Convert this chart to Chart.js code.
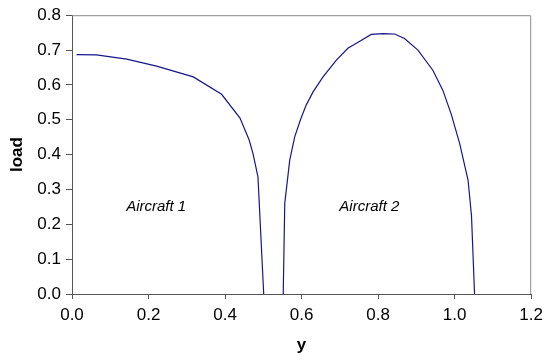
<!DOCTYPE html>
<html>
<head>
<meta charset="utf-8">
<script src="https://cdn.jsdelivr.net/npm/chart.js@4/dist/chart.umd.min.js"></script>
<style>
  html, body { margin: 0; padding: 0; background: #fff; }
  #wrap { width: 549px; height: 360px; }
</style>
</head>
<body>
<div id="wrap"><canvas id="c" width="549" height="360"></canvas></div>
<script>
// Aircraft 1 spanwise load
const aircraft1Y    = [0.012, 0.064, 0.143, 0.221, 0.317, 0.391, 0.439, 0.463, 0.473, 0.486, 0.501];
const aircraft1Load = [0.687, 0.686, 0.674, 0.654, 0.623, 0.573, 0.505, 0.442, 0.403, 0.336, 0.000];
// Aircraft 2 spanwise load
const aircraft2Y    = [0.552, 0.556, 0.569, 0.582, 0.597, 0.612, 0.630, 0.656, 0.691, 0.721, 0.752, 0.782, 0.813, 0.843, 0.869, 0.904, 0.943, 0.969, 0.991, 1.013, 1.035, 1.044, 1.052];
const aircraft2Load = [0.000, 0.260, 0.384, 0.451, 0.500, 0.542, 0.580, 0.623, 0.671, 0.705, 0.725, 0.745, 0.747, 0.746, 0.733, 0.700, 0.642, 0.585, 0.516, 0.432, 0.327, 0.225, 0.000];
// Annotation labels
const labelTexts = ["Aircraft 1", "Aircraft 2"];
const labelX     = [0.22, 0.777];
const labelYv    = [0.249, 0.249];
// Axis ticks
const xTicks = [0.0, 0.2, 0.4, 0.6, 0.8, 1.0, 1.2];
const yTicks = [0.0, 0.1, 0.2, 0.3, 0.4, 0.5, 0.6, 0.7, 0.8];

const toPts = (xs, ys) => xs.map((x, i) => ({ x: x, y: ys[i] }));

const frame = {
  id: 'frame',
  beforeDatasetsDraw(chart) {
    const { ctx, chartArea: a } = chart;
    ctx.save();
    ctx.strokeStyle = '#8c8c8c';
    ctx.lineWidth = 1;
    ctx.beginPath();
    ctx.moveTo(a.left, a.top + 0.5);
    ctx.lineTo(a.right - 0.5, a.top + 0.5);
    ctx.lineTo(a.right - 0.5, a.bottom);
    ctx.stroke();
    ctx.restore();
  },
  afterDatasetsDraw(chart) {
    const { ctx } = chart;
    const xs = chart.scales.x, ys = chart.scales.y;
    ctx.save();
    ctx.font = 'italic 15px "Liberation Sans", Arial, sans-serif';
    ctx.fillStyle = '#000';
    ctx.textAlign = 'center';
    ctx.textBaseline = 'middle';
    labelTexts.forEach((t, i) => {
      ctx.fillText(t, xs.getPixelForValue(labelX[i]), ys.getPixelForValue(labelYv[i]));
    });
    ctx.restore();
  }
};

const font = { family: '"Liberation Sans", Arial, sans-serif', size: 17 };

new Chart(document.getElementById('c'), {
  type: 'scatter',
  data: {
    datasets: [
      { label: 'Aircraft 1', data: toPts(aircraft1Y, aircraft1Load), showLine: true,
        borderColor: '#16168c', borderWidth: 1.2, pointRadius: 0, tension: 0, fill: false },
      { label: 'Aircraft 2', data: toPts(aircraft2Y, aircraft2Load), showLine: true,
        borderColor: '#16168c', borderWidth: 1.2, pointRadius: 0, tension: 0, fill: false }
    ]
  },
  options: {
    responsive: false,
    animation: false,
    events: [],
    layout: { padding: { top: 15, right: 17, left: 0, bottom: 0 } },
    plugins: { legend: { display: false }, tooltip: { enabled: false } },
    scales: {
      x: {
        type: 'linear', min: 0, max: 1.2,
        afterBuildTicks: s => { s.ticks = xTicks.map(v => ({ value: v })); },
        afterFit: s => { s.height = 66; },
        border: { color: '#555', width: 1 },
        grid: { drawOnChartArea: false, drawTicks: true, tickLength: 5, color: '#555' },
        ticks: { color: '#000', font: font, padding: 6, maxRotation: 0,
                 callback: v => Number(v).toFixed(1) },
        title: { display: true, text: 'y', color: '#000',
                 font: { family: font.family, size: 17, weight: 'bold' },
                 padding: { top: 0, bottom: 4 } }
      },
      y: {
        type: 'linear', min: 0, max: 0.8,
        afterBuildTicks: s => { s.ticks = yTicks.map(v => ({ value: v })); },
        afterFit: s => { s.width = 72; },
        border: { color: '#555', width: 1 },
        grid: { drawOnChartArea: false, drawTicks: true, tickLength: 6, color: '#555' },
        ticks: { color: '#000', font: font, padding: 5,
                 callback: v => Number(v).toFixed(1) },
        title: { display: true, text: 'load', color: '#000',
                 font: { family: font.family, size: 17, weight: 'bold' },
                 padding: { top: 7, bottom: 0 } }
      }
    }
  },
  plugins: [frame]
});
</script>
</body>
</html>
